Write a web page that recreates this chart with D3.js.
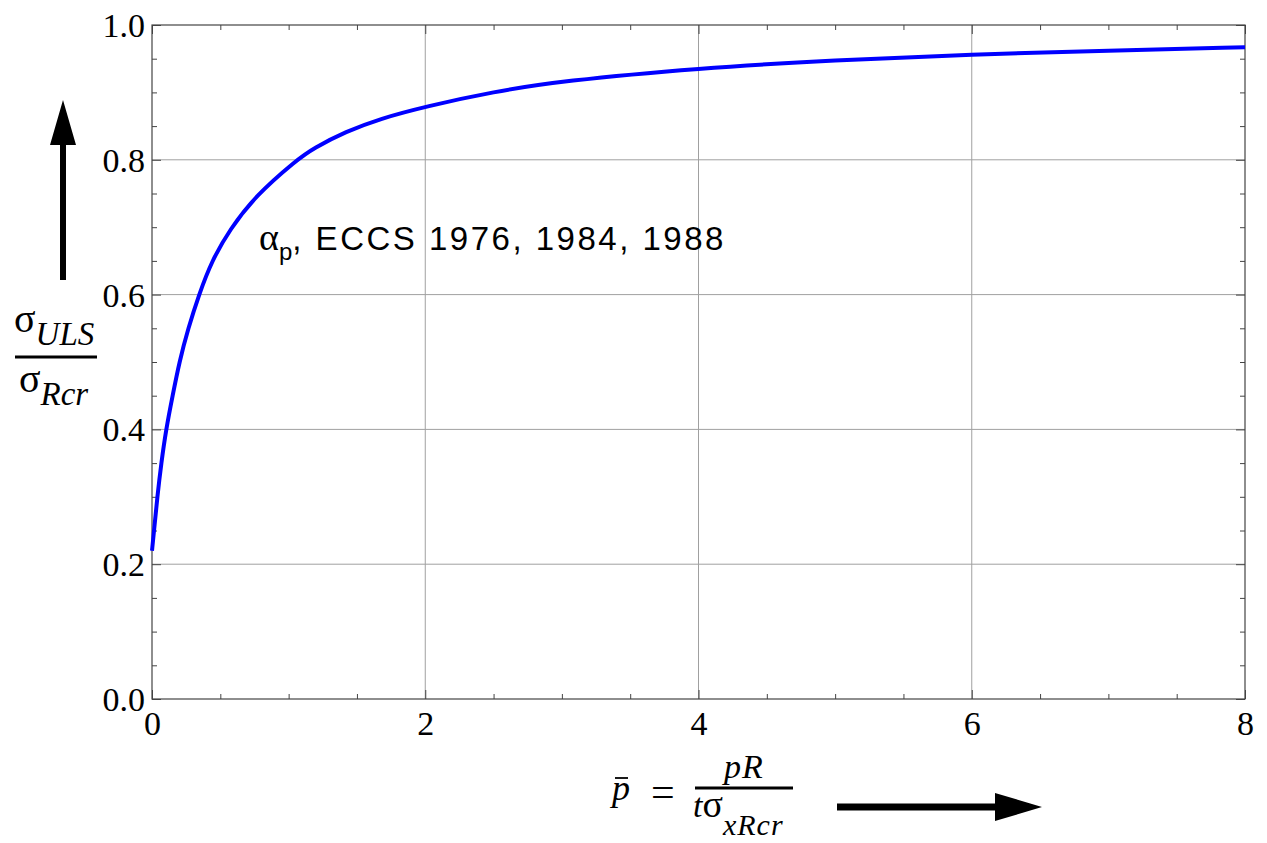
<!DOCTYPE html>
<html>
<head>
<meta charset="utf-8">
<script src="https://cdn.jsdelivr.net/npm/d3@7"></script>
<style>
  body { margin: 0; background: #fff; }
  text { fill: #000; }
</style>
</head>
<body>
<svg id="chart" width="1267" height="843"></svg>
<script>
// Curve alpha_p (p-bar -> sigma_ULS / sigma_Rcr)
const pBar = [0, 0.015, 0.039, 0.068, 0.103, 0.151, 0.2, 0.265, 0.344, 0.437, 0.571, 0.754, 1.06, 1.18, 1.42, 1.67, 2, 2.5, 3, 4, 5, 6, 7, 8];
const ratio = [0.22, 0.25, 0.30, 0.35, 0.40, 0.45, 0.50, 0.55, 0.60, 0.65, 0.697, 0.746, 0.80, 0.817, 0.842, 0.861, 0.879, 0.901, 0.917, 0.936, 0.948, 0.9565, 0.962, 0.967];

const xMajorTicks = [0, 2, 4, 6, 8];
const xMinorTicks = [0.5, 1, 1.5, 2.5, 3, 3.5, 4.5, 5, 5.5, 6.5, 7, 7.5];
const yMajorTicks = [0, 0.2, 0.4, 0.6, 0.8, 1.0];
const yMinorTicks = [0.05, 0.1, 0.15, 0.25, 0.3, 0.35, 0.45, 0.5, 0.55, 0.65, 0.7, 0.75, 0.85, 0.9, 0.95];
const xGrid = [2, 4, 6];
const yGrid = [0.2, 0.4, 0.6, 0.8];

const curveLabel = "ECCS 1976, 1984, 1988";

const margin = {left: 152, top: 25, right: 22, bottom: 144};
const width = 1267, height = 843;
const svg = d3.select("#chart");

const x = d3.scaleLinear().domain([0, 8]).range([margin.left, width - margin.right]);
const y = d3.scaleLinear().domain([0, 1]).range([height - margin.bottom, margin.top]);

const serif = "'Liberation Serif', 'Times New Roman', serif";
const sans = "'Liberation Sans', Arial, sans-serif";

// grid
svg.append("g").selectAll("line").data(xGrid).join("line")
  .attr("x1", d => x(d)).attr("x2", d => x(d))
  .attr("y1", y(0)).attr("y2", y(1))
  .style("stroke", "#a0a0a0").style("stroke-width", 1);
svg.append("g").selectAll("line").data(yGrid).join("line")
  .attr("x1", x(0)).attr("x2", x(8))
  .attr("y1", d => y(d)).attr("y2", d => y(d))
  .style("stroke", "#a0a0a0").style("stroke-width", 1);

// axes, ticks pointing inside on all four sides
function styleAxis(g) {
  g.select(".domain").remove();
  g.selectAll(".tick line").style("stroke", "#444").style("stroke-width", 1);
}
const major = 9, minor = 5;

svg.append("g").attr("transform", `translate(0,${y(0)})`)
  .call(d3.axisBottom(x).tickValues(xMajorTicks).tickSize(-major).tickFormat(d3.format("d")))
  .call(styleAxis)
  .call(g => g.selectAll("text").style("font-family", serif).style("font-size", "34px").attr("dy", 0).attr("y", 36));
svg.append("g").attr("transform", `translate(0,${y(0)})`)
  .call(d3.axisBottom(x).tickValues(xMinorTicks).tickSize(-minor).tickFormat(""))
  .call(styleAxis);
svg.append("g").attr("transform", `translate(0,${y(1)})`)
  .call(d3.axisTop(x).tickValues(xMajorTicks).tickSize(-major).tickFormat(""))
  .call(styleAxis);
svg.append("g").attr("transform", `translate(0,${y(1)})`)
  .call(d3.axisTop(x).tickValues(xMinorTicks).tickSize(-minor).tickFormat(""))
  .call(styleAxis);

svg.append("g").attr("transform", `translate(${x(0)},0)`)
  .call(d3.axisLeft(y).tickValues(yMajorTicks).tickSize(-major).tickFormat(d3.format(".1f")))
  .call(styleAxis)
  .call(g => g.selectAll("text").style("font-family", serif).style("font-size", "34px").attr("x", -7).attr("dy", "0.34em"));
svg.append("g").attr("transform", `translate(${x(0)},0)`)
  .call(d3.axisLeft(y).tickValues(yMinorTicks).tickSize(-minor).tickFormat(""))
  .call(styleAxis);
svg.append("g").attr("transform", `translate(${x(8)},0)`)
  .call(d3.axisRight(y).tickValues(yMajorTicks).tickSize(-major).tickFormat(""))
  .call(styleAxis);
svg.append("g").attr("transform", `translate(${x(8)},0)`)
  .call(d3.axisRight(y).tickValues(yMinorTicks).tickSize(-minor).tickFormat(""))
  .call(styleAxis);

// frame
svg.append("rect")
  .attr("x", x(0)).attr("y", y(1))
  .attr("width", x(8) - x(0)).attr("height", y(0) - y(1))
  .style("fill", "none").style("stroke", "#444").style("stroke-width", 1.2);

// curve
const line = d3.line()
  .x((d, i) => x(pBar[i]))
  .y(d => y(d))
  .curve(d3.curveBasis);
svg.append("path")
  .datum(ratio)
  .attr("d", line)
  .style("fill", "none")
  .style("stroke", "#0000ff")
  .style("stroke-width", 4);

// curve label
const lab = svg.append("text").attr("x", 259).attr("y", 250).style("font-family", sans).style("font-size", "33px");
lab.append("tspan").style("font-family", serif).style("font-size", "38px").text("α");
lab.append("tspan").attr("dy", 10).style("font-size", "24px").text("p");
lab.append("tspan").attr("dy", -10).style("letter-spacing", "2.5px").text(", " + curveLabel);

// y label: sigma_ULS / sigma_Rcr
const num = svg.append("text").attr("x", 14).attr("y", 332).style("font-family", serif).style("font-size", "40px");
num.append("tspan").text("σ");
num.append("tspan").attr("dy", 13).style("font-size", "33px").style("font-style", "italic").text("ULS");
svg.append("line").attr("x1", 15).attr("x2", 97).attr("y1", 357).attr("y2", 357)
  .style("stroke", "#000").style("stroke-width", 3);
const den = svg.append("text").attr("x", 19).attr("y", 392).style("font-family", serif).style("font-size", "40px");
den.append("tspan").text("σ");
den.append("tspan").attr("dy", 13).style("font-size", "33px").style("font-style", "italic").text("Rcr");

// up arrow
svg.append("path")
  .attr("d", "M60,280 L60,145 L50,145 L63,100 L76,145 L66,145 L66,280 Z")
  .style("fill", "#000");

// x label: p-bar = pR / (t sigma_xRcr)
svg.append("text").attr("x", 612).attr("y", 800).style("font-family", serif).style("font-size", "36px").style("font-style", "italic").text("p");
svg.append("line").attr("x1", 615).attr("x2", 628).attr("y1", 778).attr("y2", 778).style("stroke", "#000").style("stroke-width", 1.8);
svg.append("text").attr("x", 651).attr("y", 806).style("font-family", serif).style("font-size", "42px").text("=");
svg.append("text").attr("x", 744).attr("y", 778).attr("text-anchor", "middle")
  .style("font-family", serif).style("font-size", "34px").style("font-style", "italic").style("letter-spacing", "1px").text("pR");
svg.append("line").attr("x1", 695).attr("x2", 793).attr("y1", 788).attr("y2", 788)
  .style("stroke", "#000").style("stroke-width", 3);
const dn = svg.append("text").attr("x", 693).attr("y", 817).style("font-family", serif).style("font-size", "34px");
dn.append("tspan").style("font-style", "italic").text("t");
dn.append("tspan").style("font-size", "38px").text("σ");
dn.append("tspan").attr("dy", 18).style("font-size", "30px").style("font-style", "italic").style("letter-spacing", "1px").text("xRcr");

// right arrow
svg.append("path")
  .attr("d", "M837,803.5 L995,803.5 L995,793 L1042,807 L995,821 L995,810.5 L837,810.5 Z")
  .style("fill", "#000");
</script>
</body>
</html>
